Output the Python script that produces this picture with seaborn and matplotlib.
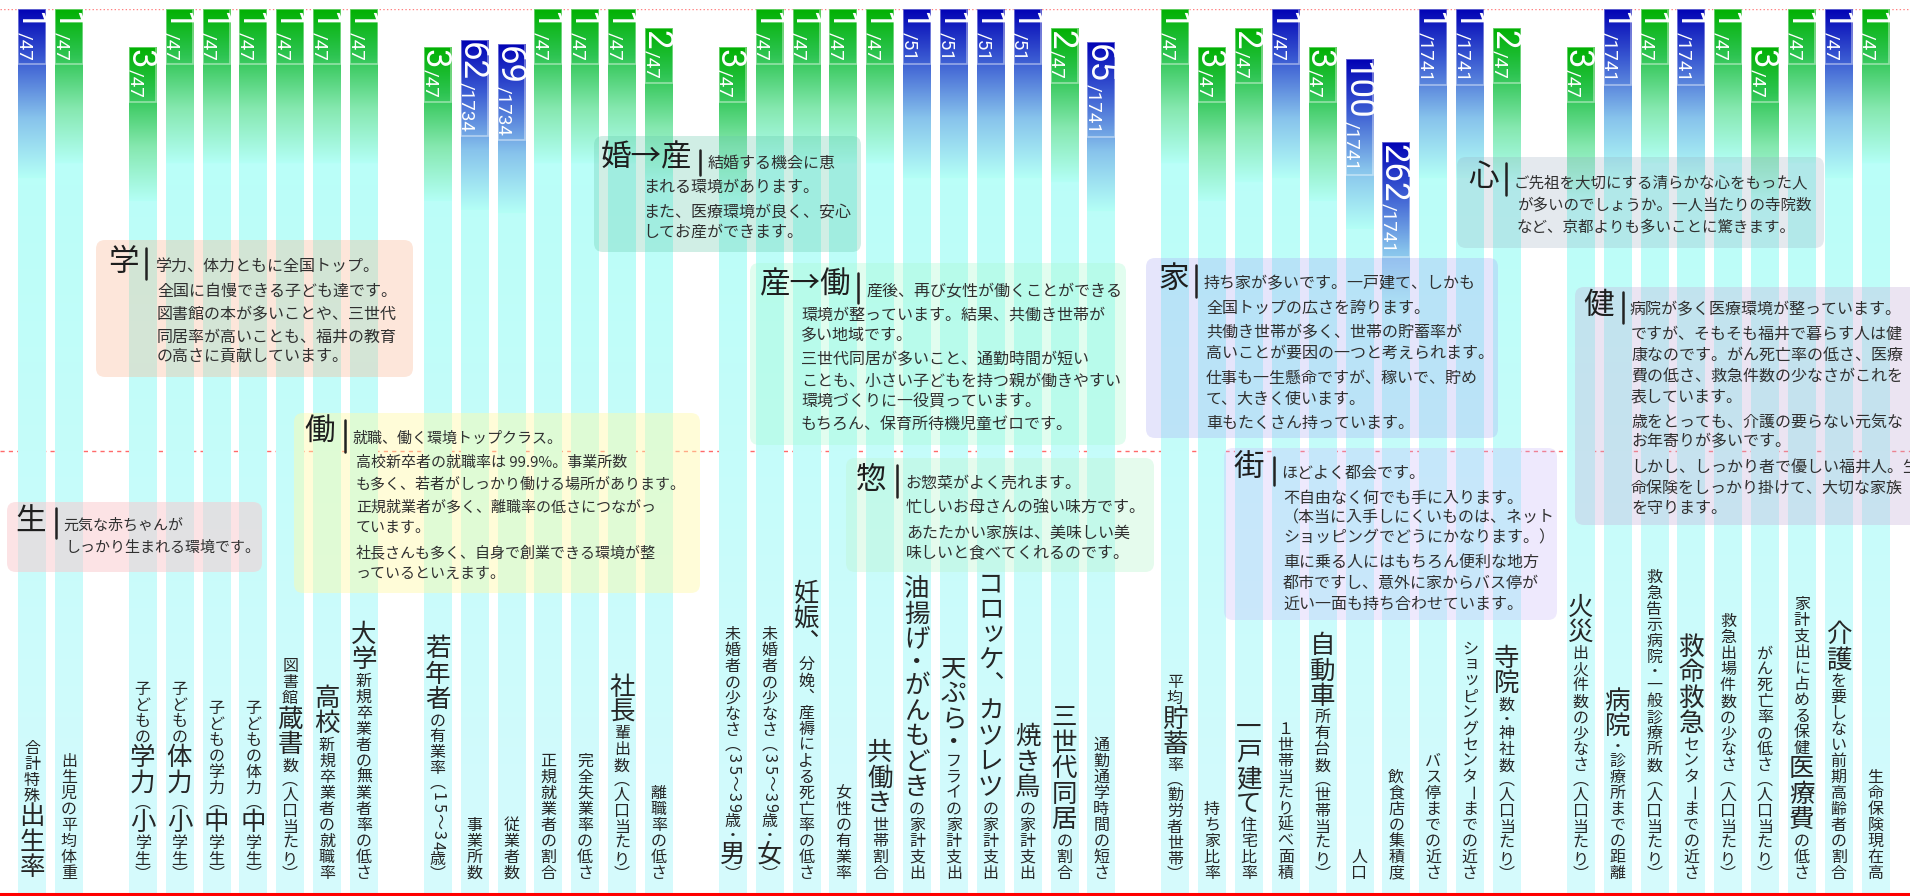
import numpy as np
import pandas as pd
import matplotlib
matplotlib.use("Agg")
import matplotlib.pyplot as plt
import matplotlib.transforms as mtransforms
from matplotlib.patches import FancyBboxPatch, Rectangle
from matplotlib.lines import Line2D
from matplotlib.colors import to_rgb
import seaborn as sns

# indicator names, {...} marks the characters printed large
labels = [
    "合計特殊{出生率}", "出生児の平均体重",
    "子どもの{学力}（{小}学生）", "子どもの{体力}（{小}学生）", "子どもの学力（{中}学生）",
    "子どもの体力（{中}学生）", "図書館{蔵書}数（人口当たり）", "{高校}新規卒業者の就職率",
    "{大学}新規卒業者の無業者率の低さ",
    "{若年者}の有業率（15～34歳）", "事業所数", "従業者数", "正規就業者の割合",
    "完全失業率の低さ", "{社長}輩出数（人口当たり）", "離職率の低さ",
    "未婚者の少なさ（35～39歳・{男}）", "未婚者の少なさ（35～39歳・{女}）",
    "{妊娠、}分娩、産褥による死亡率の低さ", "女性の有業率", "{共働き}世帯割合",
    "{油揚げ・がんもどき}の家計支出", "{天ぷら・}フライの家計支出",
    "{コロッケ、カツレツ}の家計支出", "{焼き鳥}の家計支出", "{三世代同居}の割合",
    "通勤通学時間の短さ",
    "平均{貯蓄}率（勤労者世帯）", "持ち家比率", "{一戸建て}住宅比率", "１世帯当たり延べ面積",
    "{自動車}所有台数（世帯当たり）", "人口", "飲食店の集積度", "バス停までの近さ",
    "ショッピングセンターまでの近さ", "{寺院}数・神社数（人口当たり）",
    "{火災}出火件数の少なさ（人口当たり）", "{病院}・診療所までの距離",
    "救急告示病院・一般診療所数（人口当たり）", "{救命救急}センターまでの近さ",
    "救急出場件数の少なさ（人口当たり）", "がん死亡率の低さ（人口当たり）",
    "家計支出に占める保健{医療費}の低さ", "{介護}を要しない前期高齢者の割合", "生命保険現在高",
]
ranks = [1, 1,
         3, 1, 1, 1, 1, 1, 1,
         3, 62, 69, 1, 1, 1, 2,
         3, 1, 1, 1, 1, 1, 1, 1, 1, 2, 65,
         1, 3, 2, 1, 3, 100, 262, 1, 1, 2,
         3, 1, 1, 1, 1, 3, 1, 1, 1]
totals = [47, 47,
          47, 47, 47, 47, 47, 47, 47,
          47, 1734, 1734, 47, 47, 47, 47,
          47, 47, 47, 47, 47, 51, 51, 51, 51, 47, 1741,
          47, 47, 47, 47, 47, 1741, 1741, 1741, 1741, 47,
          47, 1741, 47, 1741, 47, 47, 47, 47, 47]
tones = ["blue", "green",
         "green", "green", "green", "green", "green", "green", "green",
         "green", "blue", "blue", "green", "green", "green", "green",
         "green", "green", "green", "green", "green", "blue", "blue", "blue", "blue", "green", "blue",
         "green", "green", "green", "blue", "green", "blue", "blue", "blue", "blue", "green",
         "green", "blue", "green", "blue", "green", "green", "green", "blue", "green"]
groups = ["誕生"] * 2 + ["教育"] * 7 + ["仕事"] * 7 + ["家庭"] * 11 + ["暮らし"] * 10 + ["健康"] * 9

# commentary boxes
note_sei = ["元気な赤ちゃんが", "しっかり生まれる環境です。"]
note_gaku = ["学力、体力ともに全国トップ。", "全国に自慢できる子ども達です。", "図書館の本が多いことや、三世代",
             "同居率が高いことも、福井の教育", "の高さに貢献しています。"]
note_hataraku = ["就職、働く環境トップクラス。", "高校新卒者の就職率は 99.9%。事業所数",
                 "も多く、若者がしっかり働ける場所があります。", "正規就業者が多く、離職率の低さにつながっ",
                 "ています。", "社長さんも多く、自身で創業できる環境が整", "っているといえます。"]
note_konsan = ["結婚する機会に恵", "まれる環境があります。", "また、医療環境が良く、安心", "してお産ができます。"]
note_sando = ["産後、再び女性が働くことができる", "環境が整っています。結果、共働き世帯が", "多い地域です。",
              "三世代同居が多いこと、通勤時間が短い", "ことも、小さい子どもを持つ親が働きやすい",
              "環境づくりに一役買っています。", "もちろん、保育所待機児童ゼロです。"]
note_sou = ["お惣菜がよく売れます。", "忙しいお母さんの強い味方です。", "あたたかい家族は、美味しい美",
            "味しいと食べてくれるのです。"]
note_ie = ["持ち家が多いです。一戸建て、しかも", "全国トップの広さを誇ります。", "共働き世帯が多く、世帯の貯蓄率が",
           "高いことが要因の一つと考えられます。", "仕事も一生懸命ですが、稼いで、貯め", "て、大きく使います。",
           "車もたくさん持っています。"]
note_machi = ["ほどよく都会です。", "不自由なく何でも手に入ります。", "（本当に入手しにくいものは、ネット",
              "ショッピングでどうにかなります。）", "車に乗る人にはもちろん便利な地方",
              "都市ですし、意外に家からバス停が", "近い一面も持ち合わせています。"]
note_kokoro = ["ご先祖を大切にする清らかな心をもった人", "が多いのでしょうか。一人当たりの寺院数",
               "など、京都よりも多いことに驚きます。"]
note_ken = ["病院が多く医療環境が整っています。", "ですが、そもそも福井で暮らす人は健", "康なのです。がん死亡率の低さ、医療",
            "費の低さ、救急件数の少なさがこれを", "表しています。", "歳をとっても、介護の要らない元気な",
            "お年寄りが多いです。", "しかし、しっかり者で優しい福井人。生", "命保険をしっかり掛けて、大切な家族",
            "を守ります。"]

sns.set_style("white")
plt.rcParams["font.family"] = ["Noto Sans CJK JP", "DejaVu Sans"]

W, H = 1910, 896
PT = 72 / 100  # points per pixel at dpi 100

df = pd.DataFrame({"label": labels, "rank": ranks, "total": totals, "tone": tones, "group": groups})
order = list(dict.fromkeys(groups))
df["pos"] = df.index + df["group"].map({g: i for i, g in enumerate(order)})
df["score"] = 1 - (df["rank"] - 1) / df["total"]

fig = plt.figure(figsize=(W / 100, H / 100), dpi=100)
ax = fig.add_axes([0, 2 / H, 1, 885 / H])
sns.barplot(data=df, x="pos", y="score", native_scale=True, width=0.745, color="#b4fff7",
            saturation=1, errorbar=None, linewidth=0, ax=ax)
step = 36.87
ax.set_xlim(-32 / step, (W - 32) / step)
ax.set_ylim(0, 1)

# gradient fill of each bar: dark rank colour at the top, fading into cyan
ppu = 885
base_top = np.array([180, 255, 247]) / 255
base_bot = np.array([214, 250, 253]) / 255
stops = {"green": ([0, .3, .65, 1], ["#00b000", "#2cc450", "#86e8b0", "#b4fff6"], 155),
         "blue": ([0, .3, .65, 1], ["#0000b4", "#3a5ad2", "#88c4ec", "#b4fff6"], 170)}

bars = sorted(ax.patches, key=lambda p: p.get_x())
for bar, row in zip(bars, df.itertuples()):
    h = bar.get_height()
    n = max(int(round(h * ppu)), 2)
    d = np.arange(n) + 0.5
    fa = ((1 - h) * ppu + d) / ppu
    base = base_top + (base_bot - base_top) * fa[:, None]
    sp, cols, length = stops[row.tone]
    rgb = np.array([to_rgb(c) for c in cols])
    f = np.clip(d / length, 0, 1)
    grad = np.stack([np.interp(f, sp, rgb[:, k]) for k in range(3)], axis=1)
    img = np.where((d < length)[:, None], grad, base)
    im = ax.imshow(img[:, None, :], extent=(bar.get_x(), bar.get_x() + bar.get_width(), 0, h),
                   aspect="auto", origin="upper", interpolation="bilinear", zorder=1.2)
    im.set_clip_path(bar)

ax.set_xlim(-32 / step, (W - 32) / step)
ax.set_ylim(0, 1)
ax.axhline(1, color="#ff8080", ls=":", lw=1, zorder=0.5)
ax.axhline(0.5, color="#ff6a6a", ls=(0, (3, 3)), lw=1, zorder=0.5)
for s in ["top", "left", "right"]:
    ax.spines[s].set_visible(False)
ax.spines["bottom"].set_color("#ff0000")
ax.spines["bottom"].set_linewidth(2.2)
ax.set_xticks([])
ax.set_yticks([])
ax.set_xlabel("")
ax.set_ylabel("")

# pixel coordinates measured from the top-left corner
T = mtransforms.Affine2D().scale(1, -1).translate(0, H)
tr = mtransforms.blended_transform_factory(ax.transData, T)
renderer = fig.canvas.get_renderer()

rank_font = dict(family=["Roboto", "DejaVu Sans"], fontweight="normal", color="white")
for bar, row in zip(bars, df.itertuples()):
    top = H - ax.transData.transform((0, bar.get_height()))[1]
    x0 = bar.get_x()
    big = ax.text(x0 + 1.0 / step, top + 2, str(row.rank), transform=tr, rotation=-90,
                  rotation_mode="anchor", ha="left", va="baseline", fontsize=25, zorder=4, **rank_font)
    y_end = H - big.get_window_extent(renderer).y0
    small = ax.text(x0 + 1.0 / step, y_end + 1, f"/{row.total}", transform=tr, rotation=-90,
                    rotation_mode="anchor", ha="left", va="baseline", fontsize=13.5, zorder=4, **rank_font)
    y_end = H - small.get_window_extent(renderer).y0 + 4
    ax.add_patch(Rectangle((x0, top), bar.get_width(), y_end - top, transform=tr, fill=False,
                           edgecolor=(1, 1, 1, .45), lw=1.2, zorder=3))

# vertical (tategaki) labels
ROT = set("ー～〜")
SMALL_KANA = set("ッョャュっゃゅょ")
VERT_FORM = {"（": "︵", "）": "︶", "、": "︑"}


def draw_vertical(cx, bottom, label):
    chars, big = [], False
    for ch in label:
        if ch == "{":
            big = True
        elif ch == "}":
            big = False
        else:
            chars.append((ch, big))
    y = bottom
    for ch, b in reversed(chars):
        em = 25.5 if b else 16.0
        rot, dx, dy, adv = 0, 0, 0, em
        if ch in "（）":
            adv = 0.85 * em
        elif ch in ROT:
            rot = -90
        elif ch.isascii():
            rot, adv = -90, 0.7 * em
        elif ch == "・":
            adv = 0.8 * em
        elif ch in SMALL_KANA:
            dx, dy = 0.1 * em, -0.1 * em
        ch = VERT_FORM.get(ch, ch)
        fig.text(cx + dx, y - adv / 2 + dy, ch, transform=T, ha="center", va="center",
                 rotation=rot, fontsize=em * PT, color="#262626", zorder=5)
        y -= adv


for bar, row in zip(bars, df.itertuples()):
    cx = ax.transData.transform((bar.get_x() + bar.get_width() / 2, 0))[0]
    draw_vertical(cx, 881, row.label)

# commentary boxes: heading, separator bar, text lines
boxes = [
    ("学", note_gaku, (96, 240, 413, 377), (250, 185, 150), .35, (123, 262), (146, 248, 279), (155, 266), 157, [291, 315, 337, 356], 16),
    ("働", note_hataraku, (294, 413, 700, 593), (255, 250, 170), .45, (320, 432), (345, 420, 452), (353, 439), 356, [463, 485, 507, 528, 553, 574], 15),
    ("生", note_sei, (7, 502, 262, 572), (250, 200, 205), .5, (31, 522), (56, 508, 538), (63, 526), 65, [548], 15),
    ("婚→産", note_konsan, (594, 136, 861, 252), (100, 200, 170), .3, (646, 158), (700, 150, 175), (708, 163), 643, [187, 212, 232], 16),
    ("産→働", note_sando, (750, 263, 1126, 445), (170, 250, 210), .35, (806, 285), (858, 273, 303), (866, 292), 801, [315, 336, 360, 381, 402, 425], 16),
    ("惣", note_sou, (846, 458, 1154, 572), (190, 245, 210), .4, (871, 480), (897, 465, 497), (905, 483), 906, [508, 533, 553], 16),
    ("心", note_kokoro, (1457, 157, 1824, 248), (150, 170, 190), .25, (1484, 177), (1506, 163, 195), (1514, 183), 1517, [205, 227], 15.5),
    ("家", note_ie, (1146, 258, 1498, 438), (170, 170, 245), .3, (1174, 279), (1196, 265, 297), (1204, 284), 1206, [308, 333, 353, 378, 399, 423], 16),
    ("街", note_machi, (1224, 448, 1557, 620), (200, 185, 250), .3, (1249, 467), (1274, 457, 485), (1281, 473), 1283, [498, 518, 538, 563, 583, 604], 16),
    ("健", note_ken, (1575, 287, 1930, 525), (200, 180, 220), .35, (1599, 305), (1623, 292, 323), (1630, 310), 1631, [334, 355, 376, 397, 422, 442, 467, 488, 508], 16),
]

for head, lines, (bx0, by0, bx1, by1), face, alpha, hxy, sep, first, x2, ys, size in boxes:
    fc = tuple(c / 255 for c in face) + (alpha,)
    fig.add_artist(FancyBboxPatch((bx0, by0), bx1 - bx0, by1 - by0,
                                  boxstyle="round,pad=0,rounding_size=9", transform=T,
                                  facecolor=fc, edgecolor="none", zorder=2))
    fig.text(hxy[0], hxy[1], head, transform=T, ha="center", va="center",
             fontsize=22, color="#1e1e1e", zorder=3)
    fig.add_artist(Line2D([sep[0], sep[0]], [sep[1], sep[2]], transform=T, color="#222222", lw=1.8, zorder=3))
    fig.text(first[0], first[1], lines[0], transform=T, ha="left", va="center",
             fontsize=size * PT, color="#303030", zorder=3)
    for s, y in zip(lines[1:], ys):
        fig.text(x2, y, s, transform=T, ha="left", va="center",
                 fontsize=size * PT, color="#303030", zorder=3)

fig.savefig("out.png", dpi=100, facecolor="white")
